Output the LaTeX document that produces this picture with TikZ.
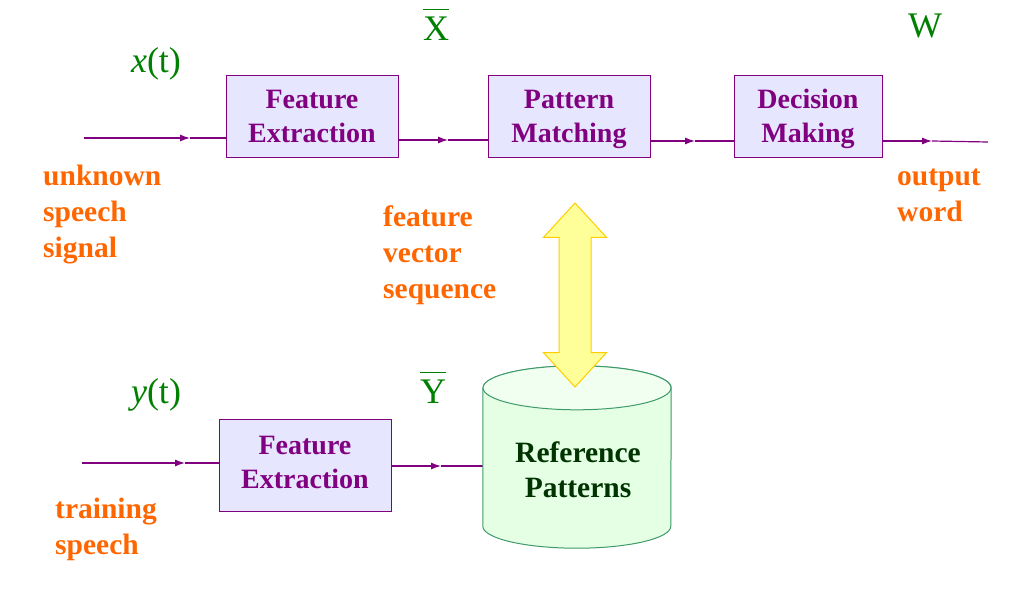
\documentclass[tikz,border=0pt]{standalone}
\usepackage{fontspec}
\setmainfont{Liberation Serif}
\usetikzlibrary{arrows.meta,shapes.arrows}

\definecolor{sigpurple}{HTML}{800080}
\definecolor{blockfill}{HTML}{E6E6FF}
\definecolor{noteorange}{HTML}{FF6600}
\definecolor{symgreen}{HTML}{008000}
\definecolor{cylfill}{HTML}{E4FFE4}
\definecolor{cyltopfill}{HTML}{F0FFF0}
\definecolor{cylline}{HTML}{3E9A6A}
\definecolor{reftext}{HTML}{003300}
\definecolor{linkfill}{HTML}{FFFF99}
\definecolor{linkline}{HTML}{FFCC00}

\newcommand\barsym[1]{\vbox{\hrule height 1.3pt\kern 6pt\hbox{#1}}}

\begin{document}
\begin{tikzpicture}[x=1pt,y=-1pt,every path/.style={>={Latex[length=10pt,width=7pt]}},
	block/.style={draw=sigpurple,fill=blockfill,line width=1pt,align=center,text=sigpurple,
		font=\fontsize{28}{34}\selectfont\bfseries,minimum height=82pt,inner sep=0pt,text depth=0pt},
	sig/.style={draw=sigpurple,line width=1.2pt},
	note/.style={anchor=base west,align=left,inner sep=0pt,text=noteorange,
		font=\fontsize{29.5}{36}\selectfont\bfseries},
	sym/.style={anchor=base,inner sep=0pt,text=symgreen,font=\fontsize{36}{40}\selectfont}]
			\useasboundingbox (0,0) rectangle (1020,589);

			% upper chain
			\node[block,minimum width=172pt] (fe1) at (312,116) {Feature\\Extraction};
			\node[block,minimum width=162pt] (pm) at (569,116) {Pattern\\Matching};
			\node[block,minimum width=148pt] (dm) at (808,116) {Decision\\Making};

			% lower chain
			\node[block,minimum width=172pt,minimum height=92pt,text depth=6pt] (fe2) at (305,465) {Feature\\Extraction};
			\node[minimum width=188pt,minimum height=138pt,inner sep=0pt] (refpat) at (577,457) {};

			\coordinate (in1) at (84,138);
			\coordinate (t1) at (190,138);
			\coordinate (t2) at (448,140);
			\coordinate (t3) at (695,141);
			\coordinate (t4) at (932,141);
			\coordinate (out1) at (988,142);
			\coordinate (in2) at (82,463);
			\coordinate (t5) at (185,463);
			\coordinate (t6) at (441,466);

			\draw[sig,->] (in1) -- (t1);
			\draw[sig] (t1) -- (t1 -| fe1.west);
			\draw[sig,->] (fe1.east |- t2) -- (t2);
			\draw[sig] (t2) -- (t2 -| pm.west);
			\draw[sig,->] (pm.east |- t3) -- (t3);
			\draw[sig] (t3) -- (t3 -| dm.west);
			\draw[sig,->] (dm.east |- t4) -- (t4);
			\draw[sig] (t4) -- (out1);

			\draw[sig,->] (in2) -- (t5);
			\draw[sig] (t5) -- (t5 -| fe2.west);
			\draw[sig,->] (fe2.east |- t6) -- (t6);
			\draw[sig] (t6) -- (t6 -| refpat.west);

			% database
			\draw[draw=cylline,fill=cylfill,line width=1pt] (refpat.north west) -- (refpat.south west)
				arc[start angle=180,end angle=360,x radius=94pt,y radius=22pt] -- (refpat.north east)
				arc[start angle=0,end angle=180,x radius=94pt,y radius=22pt] -- cycle;
			\draw[draw=cylline,fill=cyltopfill,line width=1pt] (refpat.north) ellipse [x radius=94pt,y radius=22pt];
			\node[align=center,inner sep=0pt,text=reftext,font=\fontsize{29.5}{35}\selectfont\bfseries]
				(refname) at (578,470) {Reference\\Patterns};

			\node[double arrow,rotate=90,draw=linkline,fill=linkfill,line width=1pt,inner xsep=0pt,inner ysep=15.5pt,
				minimum height=184pt,minimum width=62pt,double arrow head extend=15.5pt,
				double arrow tip angle=85] (link) at (575,295) {};

			% labels
			\node[sym] (xt) at (156,72) {\textit{x}(t)};
			\node[sym] (xbar) at (436,40) {\barsym{X}};
			\node[sym] (w) at (925,37) {W};
			\node[sym] (yt) at (156,403) {\textit{y}(t)};
			\node[sym] (ybar) at (433,403) {\barsym{Y}};

			\node[note] (unknown) at (43,257) {unknown\\speech\\signal};
			\node[note] (fvs) at (383,298) {feature\\vector\\sequence};
			\node[note] (outword) at (897,221) {output\\word};
			\node[note] (training) at (55,554) {training\\speech};
		\end{tikzpicture}
\end{document}
